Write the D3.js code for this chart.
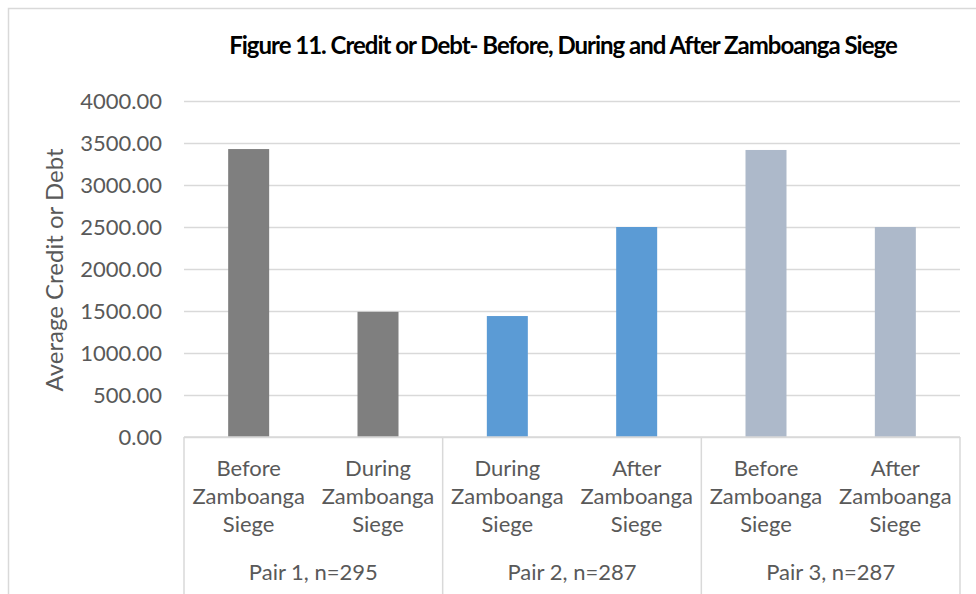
<!DOCTYPE html>
<html>
<head>
<meta charset="utf-8">
<script src="https://cdn.jsdelivr.net/npm/d3@7"></script>
<style>
  html, body { margin: 0; padding: 0; background: #fff; }
  svg text { font-family: Lato, "Open Sans", sans-serif; }
</style>
</head>
<body>
<div id="chart"></div>
<script>
// Figure 11 — average credit or debt, paired samples around the Zamboanga siege.

const pairs    = ['Pair 1, n=295', 'Pair 2, n=287', 'Pair 3, n=287'];
const periods  = ['Before', 'During', 'During', 'After', 'Before', 'After'];
const pairOf   = [0, 0, 1, 1, 2, 2];
const values   = [3428, 1490, 1440, 2500, 3417, 2500];
const colors   = ['#7f7f7f', '#5b9bd5', '#adb9ca'];
const yTicks   = [0, 500, 1000, 1500, 2000, 2500, 3000, 3500, 4000];
const TITLE    = 'Figure 11. Credit or Debt- Before, During and After Zamboanga Siege';

const W = 976, H = 594;
const plot = { left: 184, right: 960, top: 101, bottom: 437 };
const TEXT = '#595959', GRID = '#d9d9d9';

const svg = d3.select('#chart').append('svg').attr('width', W).attr('height', H);

// chart frame (right / bottom edges fall outside the crop)
svg.append('path').attr('d', `M8.5,${H + 5}V8.5H${W + 5}`)
  .attr('fill', 'none').attr('stroke', GRID).attr('stroke-width', 1.5);

// title: tighten letter spacing so the line fits the same width as the original
const title = svg.append('text').attr('x', 563).attr('y', 54).attr('text-anchor', 'middle')
  .attr('fill', '#000').style('font-size', '24px').style('font-weight', 700)
  .text(TITLE);
const natural = title.node().getComputedTextLength();
title.style('letter-spacing', ((667 - natural) / TITLE.length).toFixed(2) + 'px');

const keys = values.map((_, i) => i);
const x = d3.scaleBand().domain(keys).range([plot.left, plot.right])
  .paddingInner(0.683).paddingOuter(0.683 / 2);
const xg = d3.scaleBand().domain(pairs).range([plot.left, plot.right]);
const y = d3.scaleLinear().domain([0, 4000]).range([plot.bottom, plot.top]);

// gridlines + value labels
const yAxis = d3.axisLeft(y).tickValues(yTicks).tickFormat(d3.format('.2f'))
  .tickSize(-(plot.right - plot.left)).tickPadding(22);
const gy = svg.append('g').attr('transform', `translate(${plot.left},0)`).call(yAxis);
gy.select('.domain').remove();
gy.selectAll('.tick line').attr('stroke', GRID).attr('stroke-width', 1.5);
gy.selectAll('.tick text').attr('fill', TEXT).style('font-size', '22px')
  .style('font-family', 'Lato, "Open Sans", sans-serif');

svg.append('text')
  .attr('transform', `translate(63,270) rotate(-90)`)
  .attr('text-anchor', 'middle').attr('fill', TEXT).style('font-size', '24px')
  .text('Average Credit or Debt');

// bars
svg.append('g').selectAll('rect').data(keys).join('rect')
  .attr('x', i => x(i)).attr('width', x.bandwidth())
  .attr('y', i => y(values[i])).attr('height', i => y(0) - y(values[i]))
  .attr('fill', i => colors[pairOf[i]]);

// multi-level category axis
const axisG = svg.append('g');
axisG.append('line').attr('x1', plot.left).attr('x2', plot.right)
  .attr('y1', plot.bottom).attr('y2', plot.bottom)
  .attr('stroke', GRID).attr('stroke-width', 1.5);
const seps = pairs.map(p => xg(p)).concat([plot.right]);
axisG.selectAll('line.sep').data(seps).join('line').attr('class', 'sep')
  .attr('x1', d => d).attr('x2', d => d).attr('y1', plot.bottom).attr('y2', H + 5)
  .attr('stroke', GRID).attr('stroke-width', 1.5);

const catLabels = axisG.selectAll('text.cat').data(keys).join('text').attr('class', 'cat')
  .attr('text-anchor', 'middle').attr('fill', TEXT).style('font-size', '22px');
catLabels.each(function (i) {
  const t = d3.select(this);
  [periods[i], 'Zamboanga', 'Siege'].forEach((line, k) => {
    t.append('tspan').attr('x', x(i) + x.bandwidth() / 2).attr('y', 476 + k * 28).text(line);
  });
});

axisG.selectAll('text.pair').data(pairs).join('text').attr('class', 'pair')
  .attr('x', d => xg(d) + xg.bandwidth() / 2).attr('y', 580)
  .attr('text-anchor', 'middle').attr('fill', TEXT).style('font-size', '22px')
  .text(d => d);
</script>
</body>
</html>
